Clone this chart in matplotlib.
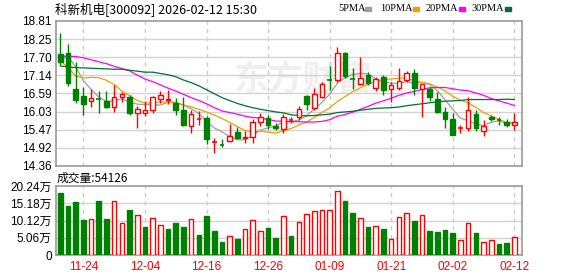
import numpy as np
import matplotlib.pyplot as plt
from matplotlib.patches import Rectangle

plt.rcParams['font.family'] = ['Liberation Sans', 'Noto Sans CJK SC', 'DejaVu Sans']

dates = ['11-19', '11-20', '11-21', '11-24', '11-25', '11-26', '11-27', '11-28', '12-01', '12-02',
         '12-03', '12-04', '12-05', '12-08', '12-09', '12-10', '12-11', '12-12', '12-15', '12-16',
         '12-17', '12-18', '12-19', '12-22', '12-23', '12-24', '12-25', '12-26', '12-29', '12-30',
         '12-31', '01-05', '01-06', '01-07', '01-08', '01-09', '01-12', '01-13', '01-14', '01-15',
         '01-16', '01-19', '01-20', '01-21', '01-22', '01-23', '01-26', '01-27', '01-28', '01-29',
         '01-30', '02-02', '02-03', '02-04', '02-05', '02-06', '02-09', '02-10', '02-11', '02-12']

opens = [17.79, 17.83, 16.72, 16.51, 16.36, 16.43, 16.35, 16.18, 16.48, 16.47,
         15.98, 15.98, 16.08, 16.42, 16.38, 16.28, 16.08, 15.59, 15.78, 15.84,
         15.10, 15.01, 15.14, 15.41, 15.22, 15.24, 15.72, 15.82, 15.59, 15.49,
         15.76, 15.85, 16.51, 16.13, 16.47, 17.00, 16.99, 17.83, 17.05, 16.87,
         17.15, 16.76, 17.08, 16.71, 16.74, 16.99, 17.20, 16.71, 16.72, 16.41,
         16.01, 15.80, 15.51, 15.52, 15.95, 15.43, 15.87, 15.78, 15.72, 15.61]
highs = [18.45, 18.10, 17.55, 16.79, 16.72, 16.66, 16.66, 16.84, 16.64, 16.54,
         16.20, 16.36, 16.50, 16.66, 16.69, 16.45, 16.47, 16.08, 16.06, 15.90,
         15.21, 15.18, 15.65, 15.57, 15.43, 15.79, 15.98, 15.92, 15.68, 15.95,
         15.85, 16.20, 16.54, 16.74, 16.95, 17.43, 18.02, 17.86, 17.36, 17.71,
         17.25, 17.10, 17.15, 16.95, 17.36, 17.28, 17.33, 16.88, 16.79, 16.64,
         16.16, 15.98, 15.62, 16.49, 16.08, 15.77, 15.92, 15.87, 15.80, 15.98]
lows = [17.46, 16.81, 16.29, 15.92, 16.18, 15.98, 16.14, 16.03, 16.33, 15.92,
        15.52, 15.90, 15.98, 16.28, 16.25, 15.92, 15.60, 15.38, 15.62, 15.03,
        14.77, 14.95, 15.11, 15.18, 15.08, 15.07, 15.59, 15.49, 15.47, 15.36,
        15.68, 15.77, 16.08, 16.08, 16.44, 16.69, 16.95, 17.05, 16.71, 16.84,
        16.85, 16.67, 16.54, 16.33, 16.69, 16.95, 16.54, 15.85, 16.36, 16.00,
        15.53, 15.31, 15.38, 15.43, 15.43, 15.28, 15.75, 15.62, 15.57, 15.46]
closes = [17.54, 16.91, 16.38, 16.26, 16.45, 16.42, 16.18, 16.47, 16.57, 15.98,
          16.10, 16.08, 16.47, 16.53, 16.43, 16.08, 15.62, 15.95, 15.79, 15.18,
          15.11, 15.00, 15.28, 15.21, 15.25, 15.70, 15.87, 15.62, 15.52, 15.85,
          15.76, 16.10, 16.26, 16.57, 16.87, 16.99, 17.82, 17.12, 17.04, 17.05,
          16.90, 17.02, 16.69, 16.84, 16.98, 17.20, 16.75, 16.87, 16.49, 16.03,
          15.80, 15.31, 15.52, 16.08, 15.52, 15.59, 15.79, 15.77, 15.62, 15.70]

ma5 = [17.61, 17.73, 17.40, 16.98, 16.71, 16.48, 16.34, 16.36, 16.42, 16.32,
       16.26, 16.24, 16.24, 16.23, 16.32, 16.32, 16.23, 16.12, 15.97, 15.72,
       15.53, 15.41, 15.27, 15.16, 15.17, 15.29, 15.46, 15.53, 15.59, 15.71,
       15.72, 15.77, 15.90, 16.11, 16.31, 16.56, 16.90, 17.07, 17.17, 17.20,
       17.19, 17.03, 16.94, 16.90, 16.89, 16.95, 16.89, 16.93, 16.86, 16.67,
       16.39, 16.10, 15.83, 15.75, 15.65, 15.60, 15.70, 15.75, 15.66, 15.69]
ma10 = [17.59, 17.38, 17.12, 17.06, 17.08, 17.07, 16.99, 16.86, 16.66, 16.52,
        16.37, 16.29, 16.30, 16.33, 16.32, 16.29, 16.23, 16.18, 16.10, 16.02,
        15.92, 15.82, 15.70, 15.57, 15.45, 15.41, 15.43, 15.40, 15.37, 15.44,
        15.51, 15.62, 15.71, 15.85, 16.01, 16.14, 16.34, 16.49, 16.64, 16.76,
        16.87, 16.96, 17.01, 17.03, 17.05, 17.07, 16.96, 16.93, 16.88, 16.78,
        16.67, 16.50, 16.38, 16.30, 16.16, 16.00, 15.90, 15.79, 15.70, 15.67]
ma20 = [17.73, 17.73, 17.72, 17.68, 17.62, 17.56, 17.50, 17.42, 17.35, 17.28,
        17.15, 17.03, 16.95, 16.85, 16.75, 16.66, 16.56, 16.46, 16.37, 16.27,
        16.15, 16.05, 16.00, 15.95, 15.89, 15.85, 15.83, 15.79, 15.74, 15.73,
        15.72, 15.72, 15.71, 15.71, 15.73, 15.78, 15.89, 15.94, 16.01, 16.10,
        16.19, 16.29, 16.36, 16.44, 16.53, 16.60, 16.65, 16.71, 16.76, 16.77,
        16.77, 16.73, 16.69, 16.67, 16.60, 16.53, 16.43, 16.36, 16.29, 16.22]
ma30 = [17.43, 17.40, 17.38, 17.37, 17.36, 17.35, 17.34, 17.33, 17.33, 17.30,
        17.27, 17.24, 17.24, 17.20, 17.16, 17.10, 17.00, 16.92, 16.82, 16.70,
        16.58, 16.46, 16.37, 16.28, 16.21, 16.15, 16.10, 16.06, 16.02, 15.99,
        15.93, 15.91, 15.90, 15.91, 15.93, 15.95, 16.00, 16.02, 16.04, 16.07,
        16.10, 16.13, 16.14, 16.15, 16.17, 16.21, 16.24, 16.27, 16.30, 16.33,
        16.35, 16.36, 16.37, 16.40, 16.40, 16.40, 16.40, 16.40, 16.41, 16.40]

# volume in 万 (10k hands)
volumes = [18.29, 14.47, 15.65, 10.27, 10.56, 15.94, 10.56, 15.84, 9.29, 13.30,
           11.74, 8.31, 10.86, 8.80, 7.73, 9.49, 8.31, 10.56, 5.97, 11.54,
           7.14, 3.91, 5.57, 4.69, 7.63, 10.27, 7.04, 8.02, 5.09, 11.44,
           5.57, 9.68, 11.93, 12.91, 13.20, 13.20, 18.78, 15.94, 12.42, 10.86,
           8.31, 8.51, 7.73, 4.69, 11.15, 12.23, 9.98, 11.74, 7.04, 6.85,
           7.34, 6.45, 4.30, 9.29, 6.45, 3.72, 4.30, 3.23, 3.52, 5.4126]

price_ticks = [14.36, 14.92, 15.47, 16.03, 16.59, 17.14, 17.70, 18.25, 18.81]
vol_ticks = [0, 5.06, 10.12, 15.18, 20.24]
date_ticks = [3, 11, 19, 27, 35, 43, 51, 59]

RED = '#ff0000'
GREEN = '#008000'
GRID = '#d3d3d3'
BORDER = '#999999'
ma_colors = ['#a0a0a0', '#f0a000', '#ff00ff', '#006f35']

W, H = 578, 276
fig = plt.figure(figsize=(W / 100, H / 100), dpi=100)
ax = fig.add_axes([56 / W, 1 - 166 / H, 466 / W, 145 / H])
axv = fig.add_axes([56 / W, 1 - 255 / H, 466 / W, 69 / H])

x = np.arange(len(closes))
bw = 0.6

# watermark
ax.text(0.53, 0.6, '东方财富', transform=ax.transAxes, fontsize=25, color='#efefef',
        ha='center', va='center', fontweight='bold', family=['Noto Sans CJK SC'], zorder=0)

# moving averages
for vals, c in zip([ma5, ma10, ma20, ma30], ma_colors):
    ax.plot(x, vals, color=c, lw=0.9, zorder=3)

# candles
for i in x:
    o, h, l, c = opens[i], highs[i], lows[i], closes[i]
    col = RED if c >= o else GREEN
    ax.vlines(i, l, h, color=col, lw=1, zorder=4)
    if abs(c - o) < 0.015:
        ax.hlines(c, i - bw / 2, i + bw / 2, color=col, lw=1.2, zorder=5)
    else:
        face = 'white' if c >= o else GREEN
        ax.bar(i, abs(c - o), bottom=min(o, c), width=bw, facecolor=face,
               edgecolor=col, lw=1, zorder=5)

# volume bars, coloured by close vs previous close
for i in x:
    if i == 0:
        up = closes[i] >= opens[i]
    else:
        up = closes[i] >= closes[i - 1]
    if up:
        axv.bar(i, volumes[i], width=bw, facecolor='white', edgecolor=RED, lw=1, zorder=3)
    else:
        axv.bar(i, volumes[i], width=bw, facecolor=GREEN, edgecolor=GREEN, lw=1, zorder=3)

for a in (ax, axv):
    a.set_xlim(-0.56, 60.0)
    for t in date_ticks:
        a.axvline(t, color='#cccccc', lw=1, ls=(0, (3, 3)), zorder=1)
    for s in a.spines.values():
        s.set_color(BORDER)
        s.set_linewidth(1.2)
    a.tick_params(length=0, labelsize=8.5, pad=3)

ax.set_ylim(price_ticks[0], price_ticks[-1])
ax.set_yticks(price_ticks)
ax.set_yticklabels([f'{v:.2f}' for v in price_ticks])
ax.set_xticks([])
for v in price_ticks[1:-1]:
    ax.axhline(v, color=GRID, lw=1, zorder=1)

axv.set_ylim(0, vol_ticks[-1])
axv.set_yticks(vol_ticks)
axv.set_yticklabels(['0'] + [f'{v:.2f}万' for v in vol_ticks[1:]])
for v in vol_ticks[1:-1]:
    axv.axhline(v, color=GRID, lw=1, zorder=1)
axv.set_xticks(date_ticks)
axv.set_xticklabels([dates[t] for t in date_ticks], color=RED, fontsize=8.5)
axv.tick_params(axis='x', pad=4)

# header texts
fig.text(55 / W, 1 - 9 / H, '科新机电[300092] 2026-02-12 15:30', fontsize=9,
         va='center', ha='left', family=['Noto Sans CJK SC'])
fig.text(57 / W, 1 - 178 / H, '成交量:54126', fontsize=8.5, va='center', ha='left',
         family=['Noto Sans CJK SC'])

# legend
leg = [('5PMA', 338, 365), ('10PMA', 380, 413), ('20PMA', 426, 459), ('30PMA', 472, 505)]
for (name, tx, sx), c in zip(leg, ma_colors):
    fig.text(tx / W, 1 - 8.5 / H, name, fontsize=7.5, va='center', ha='left',
             family=['Liberation Serif'])
    fig.patches.append(Rectangle((sx / W, 1 - 10.5 / H), 6 / W, 3.5 / H, color=c,
                                 transform=fig.transFigure, figure=fig))

fig.savefig('out.png', dpi=100)
